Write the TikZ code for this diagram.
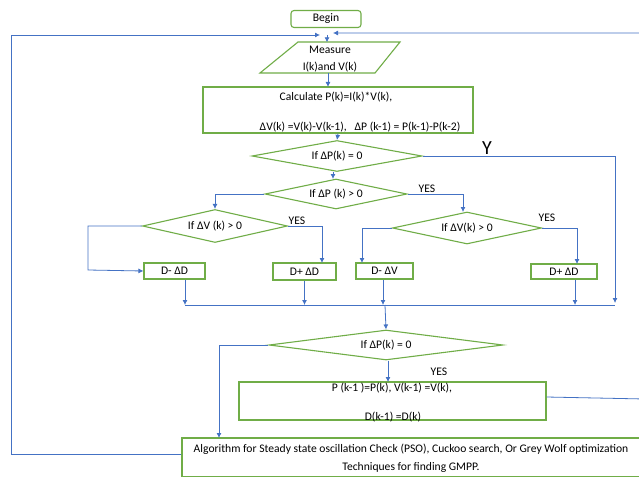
\documentclass[tikz,border=0pt]{standalone}
\usepackage{fontspec}
\setmainfont{Carlito}
\usetikzlibrary{shapes.geometric,arrows.meta}
\definecolor{grn}{HTML}{70AD47}
\definecolor{blu}{HTML}{4472C4}
\begin{document}
\begin{tikzpicture}[x=1pt,y=-1pt,
  box/.style={draw=grn, line width=1.1pt, inner sep=0pt},
  dia/.style={diamond, draw=grn, line width=1.1pt, inner sep=0pt, font=\fontsize{11.6}{13}\selectfont},
  txt/.style={inner sep=0pt, font=\fontsize{11.6}{13}\selectfont},
  conn/.style={draw=blu, line width=0.8pt},
  arr/.style={conn, -{Latex[length=5pt,width=5pt]}}]
\useasboundingbox (0,0) rectangle (639,476);
\fill[white] (0,0) rectangle (639,476);

% Begin
\node[box, rounded corners=3pt, minimum width=70pt, minimum height=17pt, font=\fontsize{11.6}{13}\selectfont] (begin) at (326,19) {Begin};

% Measure (parallelogram)
\node[inner sep=0pt, minimum width=100pt, minimum height=31pt, align=center, font=\fontsize{11.6}{18}\selectfont] (measure) at (330,58) {};
\node[txt] (measA) at (330,50) {Measure};
\node[txt] (measB) at (330,67) {I(k)and V(k)};
\draw[grn, line width=1.1pt] (260,73) -- (375,73) -- (400,42) -- (298,42) -- cycle;

% Calculate box
\node[box, minimum width=270pt, minimum height=46pt] (calc) at (338,110) {};
\node[txt] (calcA) at (336,97) {Calculate P(k)=I(k)*V(k),};
\node[txt] (calcB) at (360,127) {ΔV(k) =V(k)-V(k-1),\ \ \ ΔP (k-1) = P(k-1)-P(k-2)};

% Decisions
\node[dia, minimum width=170pt, minimum height=31pt, shape aspect=5.5] (d1) at (337,156) {If ΔP(k) = 0};
\node[dia, minimum width=142pt, minimum height=30pt, shape aspect=4.7] (d2) at (336,194) {If ΔP (k) > 0};
\node[dia, minimum width=145pt, minimum height=33pt, shape aspect=4.4] (d3) at (215,226) {If ΔV (k) > 0};
\node[dia, minimum width=149pt, minimum height=32pt, shape aspect=4.6] (d4) at (467,228) {If ΔV(k) > 0};

% Duty boxes
\node[box, minimum width=61pt, minimum height=16pt, font=\fontsize{11.6}{13}\selectfont] (b1) at (174.5,271) {D- ΔD};
\node[box, minimum width=63pt, minimum height=17pt, font=\fontsize{11.6}{13}\selectfont] (b2) at (304.5,271.5) {D+ ΔD};
\node[box, minimum width=57pt, minimum height=16pt, font=\fontsize{11.6}{13}\selectfont] (b3) at (384.5,271) {D- ΔV};
\node[box, minimum width=66pt, minimum height=15pt, font=\fontsize{11.6}{13}\selectfont] (b4) at (564,271.5) {D+ ΔD};

% Second decision
\node[dia, minimum width=234pt, minimum height=30pt, shape aspect=7.8] (d5) at (386,345) {If ΔP(k) = 0};

% Update box
\node[box, minimum width=307pt, minimum height=38pt] (upd) at (392.5,401) {};
\node[txt] (updA) at (392,388) {P (k-1 )=P(k), V(k-1) =V(k),};
\node[txt] (updB) at (393,417) {D(k-1) =D(k)};

% Algorithm box
\node[box, minimum width=458pt, minimum height=39pt] (alg) at (411,457.5) {};
\node[txt] (algA) at (411,449) {Algorithm for Steady state oscillation Check (PSO), Cuckoo search, Or Grey Wolf optimization};
\node[txt] (algB) at (411,467) {Techniques for finding GMPP.};

% Labels
\node[inner sep=0pt, font=\fontsize{20}{22}\selectfont] (lY) at (487,148) {Y};
\node[txt] (yes1) at (427,189) {YES};
\node[txt] (yes2) at (297,221) {YES};
\node[txt] (yes3) at (547,218) {YES};
\node[txt] (yes4) at (439,372) {YES};

% Helper coordinates
\coordinate (joinL) at (320,35);
\coordinate (joinR) at (333,33);
\coordinate (join) at (327,35);
\coordinate (busL) at (185,305);
\coordinate (busR) at (615,305);

% Connectors
\draw[arr] (join) -- (join |- measure.north);
\draw[arr] (328,73) -- (328,87);
\draw[arr] (calc.south) -- (d1.north);
\draw[arr] (d1.south -| 333,0) -- (333,179);
\draw[arr] (d1.east) -- (615,156) -- (615,303);
\draw[arr] (d2.west) -| (d3.north);
\draw[arr] (d2.east) -- (463,194) -- (463,212);
\draw[arr] (d3.west) -- (88,226) -- (88,270) -- (b1.west);
\draw[arr] (d3.east) -- (322,226) -- (322,263);
\draw[arr] (d4.west) -- (362,228) -- (362,263);
\draw[arr] (d4.east) -- (577,228) -- (577,264);
\draw[arr] (b1.south -| busL) -- (busL);
\draw[arr] (b2.south) -- (b2.south |- busL);
\draw[arr] (b3.south -| 383,0) -- (383,305);
\draw[arr] (b4.south -| 575,0) -- (575,305);
\draw[conn] (busL) -- (busR);
\draw[arr] (385,305) -- (d5.north);
\draw[arr] (d5.west) -- (219,345) -- (219,438);
\draw[arr] (d5.south -| 388,0) -- (388,382);
\draw[arr] (alg.west |- 0,454) -- (11,454) -- (11,35) -- (joinL);
\draw[arr] (upd.east |- 0,397) -- (645,399) -- (645,33) -- (joinR);
\end{tikzpicture}
\end{document}
